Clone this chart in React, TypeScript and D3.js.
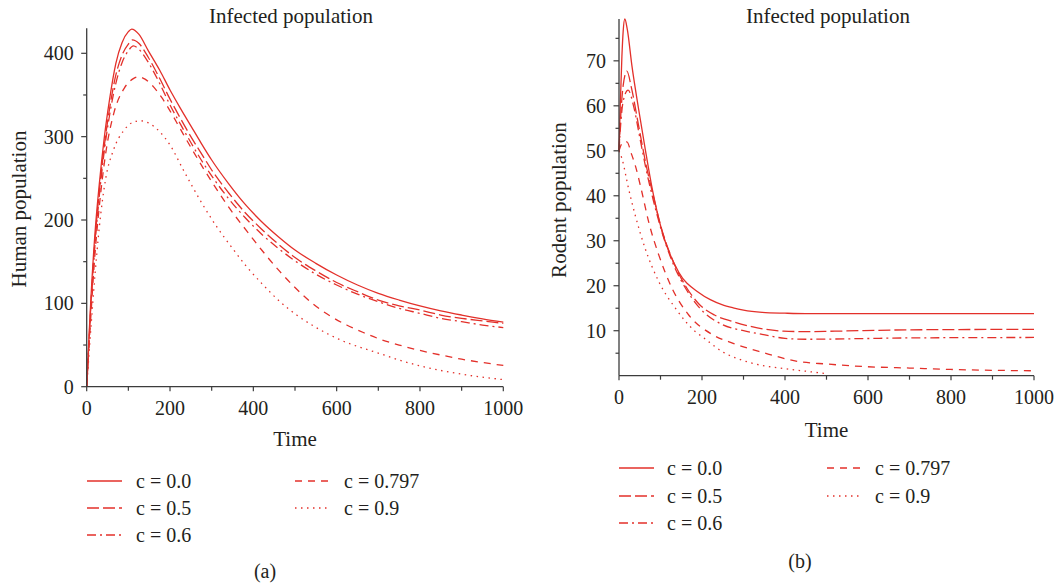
import React from 'react';
import * as d3 from 'd3';

const RED = '#e3302a';
const INK = '#231f20';
const AXIS = '#3c3c3c';
const FONT = "'Liberation Serif', 'Times New Roman', serif";

const legendLabels = ['c = 0.0', 'c = 0.5', 'c = 0.6', 'c = 0.797', 'c = 0.9'];
const dashStyles = ['none', '12,4', '9,4,2,4', '7,6', '1.5,4.5'];

// ---- Human infected population (panel a) ----
const humanT00 = [0, 5, 10, 20, 30, 42, 55, 70, 85, 100, 108, 125, 148, 175, 200, 225, 250, 275, 300, 340, 380, 420, 460, 500, 550, 600, 650, 700, 750, 800, 850, 900, 950, 1000];
const humanV00 = [0, 55, 105, 185, 242, 298, 345, 388, 413, 426, 429, 423, 403, 380, 356, 334, 313, 292, 272, 244, 219, 198, 180, 164, 148, 134, 122, 112, 104, 97, 91, 86, 81.5, 77.5];
const humanT05 = [0, 5, 10, 20, 30, 42, 55, 70, 85, 100, 110, 125, 148, 175, 200, 225, 250, 275, 300, 340, 380, 420, 460, 500, 550, 600, 650, 700, 750, 800, 850, 900, 950, 1000];
const humanV05 = [0, 50, 98, 176, 233, 288, 334, 374, 398, 411, 416, 412, 395, 370, 345, 322, 300, 280, 260, 233, 209, 189, 171, 155, 139, 125, 114, 104, 97, 92, 86, 82, 79, 76];
const humanT06 = [0, 5, 10, 20, 30, 42, 55, 70, 85, 100, 112, 125, 148, 175, 200, 225, 250, 275, 300, 340, 380, 420, 460, 500, 550, 600, 650, 700, 750, 800, 850, 900, 950, 1000];
const humanV06 = [0, 48, 95, 172, 228, 282, 326, 364, 389, 403, 409, 405, 389, 364, 338, 315, 293, 272, 253, 226, 203, 183, 166, 151, 135, 122, 111, 102, 94, 88, 82, 78, 74, 71];
const humanT0797 = [0, 5, 10, 20, 30, 45, 65, 90, 110, 124, 140, 160, 180, 200, 225, 256, 280, 304, 340, 384, 420, 464, 500, 544, 584, 624, 664, 704, 750, 800, 850, 900, 950, 1000];
const humanV0797 = [0, 45, 85, 160, 215, 278, 328, 358, 369, 372, 369, 360, 347, 331, 309, 282, 262, 243, 216, 187, 164, 138, 119, 99, 85, 74, 65, 57, 50, 43.5, 38, 33, 29, 25.5];
const humanT09 = [0, 5, 10, 20, 30, 45, 65, 90, 110, 130, 150, 175, 200, 232, 272, 312, 350, 384, 420, 464, 504, 544, 584, 624, 664, 696, 750, 800, 850, 900, 950, 1000];
const humanV09 = [0, 35, 70, 135, 190, 248, 285, 308, 317, 319, 316, 306, 290, 260, 224, 192, 166, 144, 124, 102, 86, 73, 62, 53, 46, 41, 32, 25, 19.5, 15, 11.5, 8.5];

// ---- Rodent infected population (panel b) ----
const rodentT00 = [0, 3, 7, 10, 14, 20, 31, 47, 63, 80, 104, 144, 192, 220, 248, 275, 300, 345, 400, 450, 700, 1000];
const rodentV00 = [50, 60, 71, 76.5, 79.3, 77, 69, 59.4, 50.5, 41.6, 32, 23, 18.5, 16.9, 15.8, 15.1, 14.6, 14.1, 13.9, 13.8, 13.8, 13.8];
const rodentT05 = [0, 5, 10, 19, 30, 47, 65, 80, 100, 130, 160, 192, 230, 275, 320, 396, 450, 520, 700, 1000];
const rodentV05 = [50, 59, 64.5, 67.7, 64, 55.7, 47, 41, 33.5, 25.5, 20, 16, 13.5, 12, 10.9, 9.9, 9.8, 9.9, 10.2, 10.3];
const rodentT06 = [0, 5, 10, 22, 35, 50, 65, 80, 100, 130, 160, 192, 248, 300, 345, 400, 450, 550, 700, 1000];
const rodentV06 = [50, 57, 61, 63.5, 60, 53, 46, 40, 33, 25, 19.5, 15.3, 11.4, 10, 9.2, 8.3, 8.1, 8.2, 8.4, 8.5];
const rodentT0797 = [0, 5, 10, 19, 30, 39, 55, 71.5, 96, 128, 168, 224, 275, 345, 436, 500, 597, 700, 798, 900, 1000];
const rodentV0797 = [50, 51.3, 52, 52, 49.3, 46.8, 40.9, 34.2, 26.8, 19.4, 13.5, 9.2, 7.2, 5.2, 3.1, 2.6, 2.0, 1.7, 1.4, 1.2, 1.1];
const rodentT09 = [0, 7, 23, 39, 63, 96, 136, 184, 203, 248, 316, 396, 450, 495];
const rodentV09 = [50, 48.3, 41.6, 35.7, 28.3, 20.9, 15, 9.8, 8.5, 5.4, 2.9, 1.6, 1.0, 0.5];

const humanYTicks = [0, 100, 200, 300, 400];
const rodentYTicks = [10, 20, 30, 40, 50, 60, 70];
const xTicks = [0, 200, 400, 600, 800, 1000];

type Panel = {
  title: string;
  yLabel: string;
  tag: string;
  xRange: [number, number];
  yRange: [number, number];
  yDomain: [number, number];
  yTicks: number[];
  yMinorStep: number;
  series: { t: number[]; v: number[] }[];
  titleX: number;
  yLabelX: number;
  yLabelY: number;
  xLabelY: number;
  legendX: [number, number];
  legendRows: number[];
  legendCol2: number;
  tagX: number;
  tagY: number;
};

const panels: Panel[] = [
  {
    title: 'Infected population',
    yLabel: 'Human population',
    tag: '(a)',
    xRange: [86.7, 503.3],
    yRange: [386.7, 28.3],
    yDomain: [0, 430],
    yTicks: humanYTicks,
    yMinorStep: 50,
    series: [
      { t: humanT00, v: humanV00 },
      { t: humanT05, v: humanV05 },
      { t: humanT06, v: humanV06 },
      { t: humanT0797, v: humanV0797 },
      { t: humanT09, v: humanV09 },
    ],
    titleX: 291,
    yLabelX: 26,
    yLabelY: 209,
    xLabelY: 446,
    legendX: [87, 136],
    legendRows: [481, 508, 535],
    legendCol2: 208,
    tagX: 265,
    tagY: 578,
  },
  {
    title: 'Infected population',
    yLabel: 'Rodent population',
    tag: '(b)',
    xRange: [619, 1034],
    yRange: [375.7, 19],
    yDomain: [0, 79.3],
    yTicks: rodentYTicks,
    yMinorStep: 5,
    series: [
      { t: rodentT00, v: rodentV00 },
      { t: rodentT05, v: rodentV05 },
      { t: rodentT06, v: rodentV06 },
      { t: rodentT0797, v: rodentV0797 },
      { t: rodentT09, v: rodentV09 },
    ],
    titleX: 828,
    yLabelX: 566,
    yLabelY: 200,
    xLabelY: 437,
    legendX: [619, 667],
    legendRows: [468, 496, 523],
    legendCol2: 208,
    tagX: 800,
    tagY: 568,
  },
];

function PanelView({ p }: { p: Panel }) {
  const x = d3.scaleLinear().domain([0, 1000]).range(p.xRange);
  const y = d3.scaleLinear().domain(p.yDomain).range(p.yRange);
  const line = d3
    .line<[number, number]>()
    .x((d) => x(d[0]))
    .y((d) => y(d[1]))
    .curve(d3.curveMonotoneX);
  const x0 = p.xRange[0];
  const y0 = p.yRange[0];
  const minorY = d3.range(p.yDomain[0] + p.yMinorStep, p.yDomain[1], p.yMinorStep).filter(
    (v) => !p.yTicks.includes(Math.round(v * 1000) / 1000)
  );
  const minorX = d3.range(100, 1000, 200);
  return (
    <g>
      <text x={p.titleX} y={23} textAnchor="middle" fontSize={21} fill={INK} fontFamily={FONT}>
        {p.title}
      </text>
      {p.series.map((s, i) => (
        <path
          key={i}
          d={line(s.t.map((t, j) => [t, s.v[j]] as [number, number])) || ''}
          fill="none"
          stroke={RED}
          strokeWidth={1.3}
          strokeDasharray={dashStyles[i]}
        />
      ))}
      <line x1={x0} x2={x0} y1={y0} y2={p.yRange[1]} stroke={AXIS} strokeWidth={1.3} />
      <line x1={x0} x2={p.xRange[1]} y1={y0} y2={y0} stroke={AXIS} strokeWidth={1.3} />
      {p.yTicks.map((v) => (
        <g key={'yt' + v}>
          <line x1={x0 - 5.5} x2={x0} y1={y(v)} y2={y(v)} stroke={AXIS} strokeWidth={1.2} />
          <text x={x0 - 13} y={y(v)} dy="0.35em" textAnchor="end" fontSize={20} fill={INK} fontFamily={FONT}>
            {v}
          </text>
        </g>
      ))}
      {minorY.map((v) => (
        <line key={'ym' + v} x1={x0 - 3.5} x2={x0} y1={y(v)} y2={y(v)} stroke={AXIS} strokeWidth={1.2} />
      ))}
      {xTicks.map((t) => (
        <g key={'xt' + t}>
          <line x1={x(t)} x2={x(t)} y1={y0} y2={y0 + 4.5} stroke={AXIS} strokeWidth={1.2} />
          <text x={x(t)} y={y0 + 28} textAnchor="middle" fontSize={20} fill={INK} fontFamily={FONT}>
            {t}
          </text>
        </g>
      ))}
      {minorX.map((t) => (
        <line key={'xm' + t} x1={x(t)} x2={x(t)} y1={y0} y2={y0 + 4} stroke={AXIS} strokeWidth={1.2} />
      ))}
      <text x={(p.xRange[0] + p.xRange[1]) / 2} y={p.xLabelY} textAnchor="middle" fontSize={21} fill={INK} fontFamily={FONT}>
        Time
      </text>
      <text
        transform={`translate(${p.yLabelX},${p.yLabelY}) rotate(-90)`}
        textAnchor="middle"
        fontSize={21}
        fill={INK}
        fontFamily={FONT}
      >
        {p.yLabel}
      </text>
      {legendLabels.map((lab, i) => {
        const col = i < 3 ? 0 : 1;
        const row = i < 3 ? i : i - 3;
        const lx = p.legendX[0] + col * p.legendCol2;
        const tx = p.legendX[1] + col * p.legendCol2;
        const ly = p.legendRows[row];
        return (
          <g key={'lg' + i}>
            <line x1={lx} x2={lx + 35} y1={ly} y2={ly} stroke={RED} strokeWidth={1.3} strokeDasharray={dashStyles[i]} />
            <text x={tx} y={ly} dy="0.33em" fontSize={20} fill={INK} fontFamily={FONT}>
              {lab}
            </text>
          </g>
        );
      })}
      <text x={p.tagX} y={p.tagY} textAnchor="middle" fontSize={20} fill={INK} fontFamily={FONT}>
        {p.tag}
      </text>
    </g>
  );
}

export default function App() {
  return (
    <svg
      width={1058}
      height={586}
      style={{ position: 'absolute', left: 0, top: 0, background: '#fff' }}
      xmlns="http://www.w3.org/2000/svg"
    >
      <rect x={0} y={0} width={1058} height={586} fill="#fff" />
      {panels.map((p, i) => (
        <PanelView key={i} p={p} />
      ))}
    </svg>
  );
}
